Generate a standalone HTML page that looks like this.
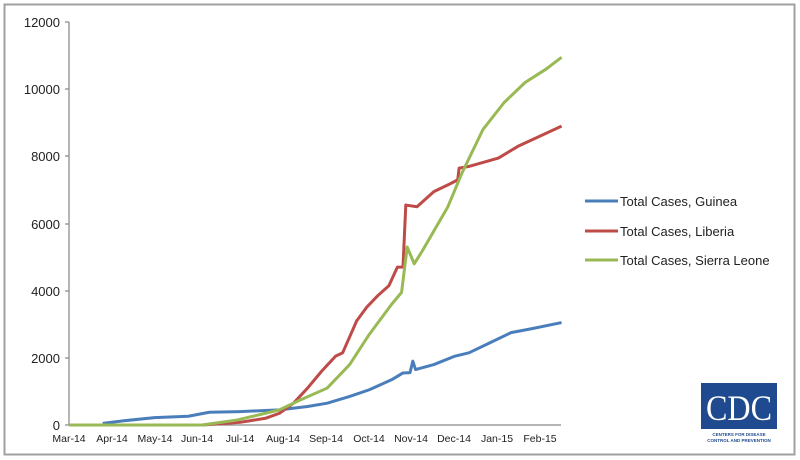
<!DOCTYPE html>
<html><head><style>
body{margin:0;background:#fff;}
svg{display:block;font-family:"Liberation Sans",sans-serif;}
</style></head><body>
<svg width="800" height="460" viewBox="0 0 800 460">
<rect x="4.5" y="4.5" width="790" height="450" fill="#fff" stroke="#a0a0a0" stroke-width="2"/>
<g stroke="#868686" stroke-width="1.2" fill="none">
<line x1="69" y1="22" x2="69" y2="425"/>
<line x1="69" y1="425" x2="561" y2="425"/>
<line x1="65" y1="22" x2="69" y2="22"/><line x1="65" y1="89" x2="69" y2="89"/><line x1="65" y1="156" x2="69" y2="156"/><line x1="65" y1="224" x2="69" y2="224"/><line x1="65" y1="291" x2="69" y2="291"/><line x1="65" y1="358" x2="69" y2="358"/><line x1="65" y1="425" x2="69" y2="425"/>
</g>
<g font-size="13" fill="#222" text-anchor="end">
<text x="60" y="27">12000</text><text x="60" y="94">10000</text><text x="60" y="161">8000</text><text x="60" y="229">6000</text><text x="60" y="296">4000</text><text x="60" y="363">2000</text><text x="60" y="430">0</text>
</g>
<g font-size="10.5" fill="#222" text-anchor="middle">
<text x="69" y="442">Mar-14</text><text x="112" y="442">Apr-14</text><text x="155" y="442">May-14</text><text x="197" y="442">Jun-14</text><text x="240" y="442">Jul-14</text><text x="283" y="442">Aug-14</text><text x="326" y="442">Sep-14</text><text x="369" y="442">Oct-14</text><text x="411" y="442">Nov-14</text><text x="454" y="442">Dec-14</text><text x="497" y="442">Jan-15</text><text x="540" y="442">Feb-15</text>
</g>
<g transform="translate(69,425) scale(1.4033,-0.03358)" fill="none" stroke-width="3" stroke-linejoin="round">
<polyline vector-effect="non-scaling-stroke" stroke="#4a7ebb" points="24,50 40,130 61,220 85,260 100,380 122,400 150,450 170,550 184,650 200,850 214,1050 230,1350 238,1550 243,1560 245,1900 247,1650 260,1800 275,2050 285,2150 300,2450 315,2750 330,2870 351,3050"/>
<polyline vector-effect="non-scaling-stroke" stroke="#be4b48" points="0,0 95,0 122,80 140,200 150,350 160,650 170,1100 180,1600 190,2050 195,2150 205,3100 212,3500 220,3850 228,4150 234,4700 238,4700 240,6550 248,6500 260,6950 270,7150 277,7300 278,7650 285,7700 306,7950 320,8300 351,8900"/>
<polyline vector-effect="non-scaling-stroke" stroke="#98b954" points="0,0 95,0 120,150 135,300 150,450 165,750 184,1100 200,1800 214,2700 230,3600 237,3950 241,5300 246,4800 252,5200 270,6500 280,7500 295,8800 310,9600 325,10200 340,10600 351,10950"/>
</g>
<g stroke-width="3">
<line x1="585" y1="201" x2="618" y2="201" stroke="#4a7ebb"/>
<line x1="585" y1="231" x2="618" y2="231" stroke="#be4b48"/>
<line x1="585" y1="260" x2="618" y2="260" stroke="#98b954"/>
</g>
<g font-size="13" fill="#222">
<text x="620" y="206">Total Cases, Guinea</text>
<text x="620" y="236">Total Cases, Liberia</text>
<text x="620" y="265">Total Cases, Sierra Leone</text>
</g>
<rect x="701" y="383" width="76" height="46" fill="#1f4a8f"/>
<text x="739" y="420" text-anchor="middle" font-family="Liberation Serif,serif" font-size="36" fill="#fff" textLength="66" lengthAdjust="spacingAndGlyphs">CDC</text>
<text x="739" y="436" text-anchor="middle" font-size="4.5" fill="#1f4a8f" font-weight="bold">CENTERS FOR DISEASE</text>
<text x="739" y="442" text-anchor="middle" font-size="4.5" fill="#1f4a8f" font-weight="bold">CONTROL AND PREVENTION</text>
</svg>
</body></html>
